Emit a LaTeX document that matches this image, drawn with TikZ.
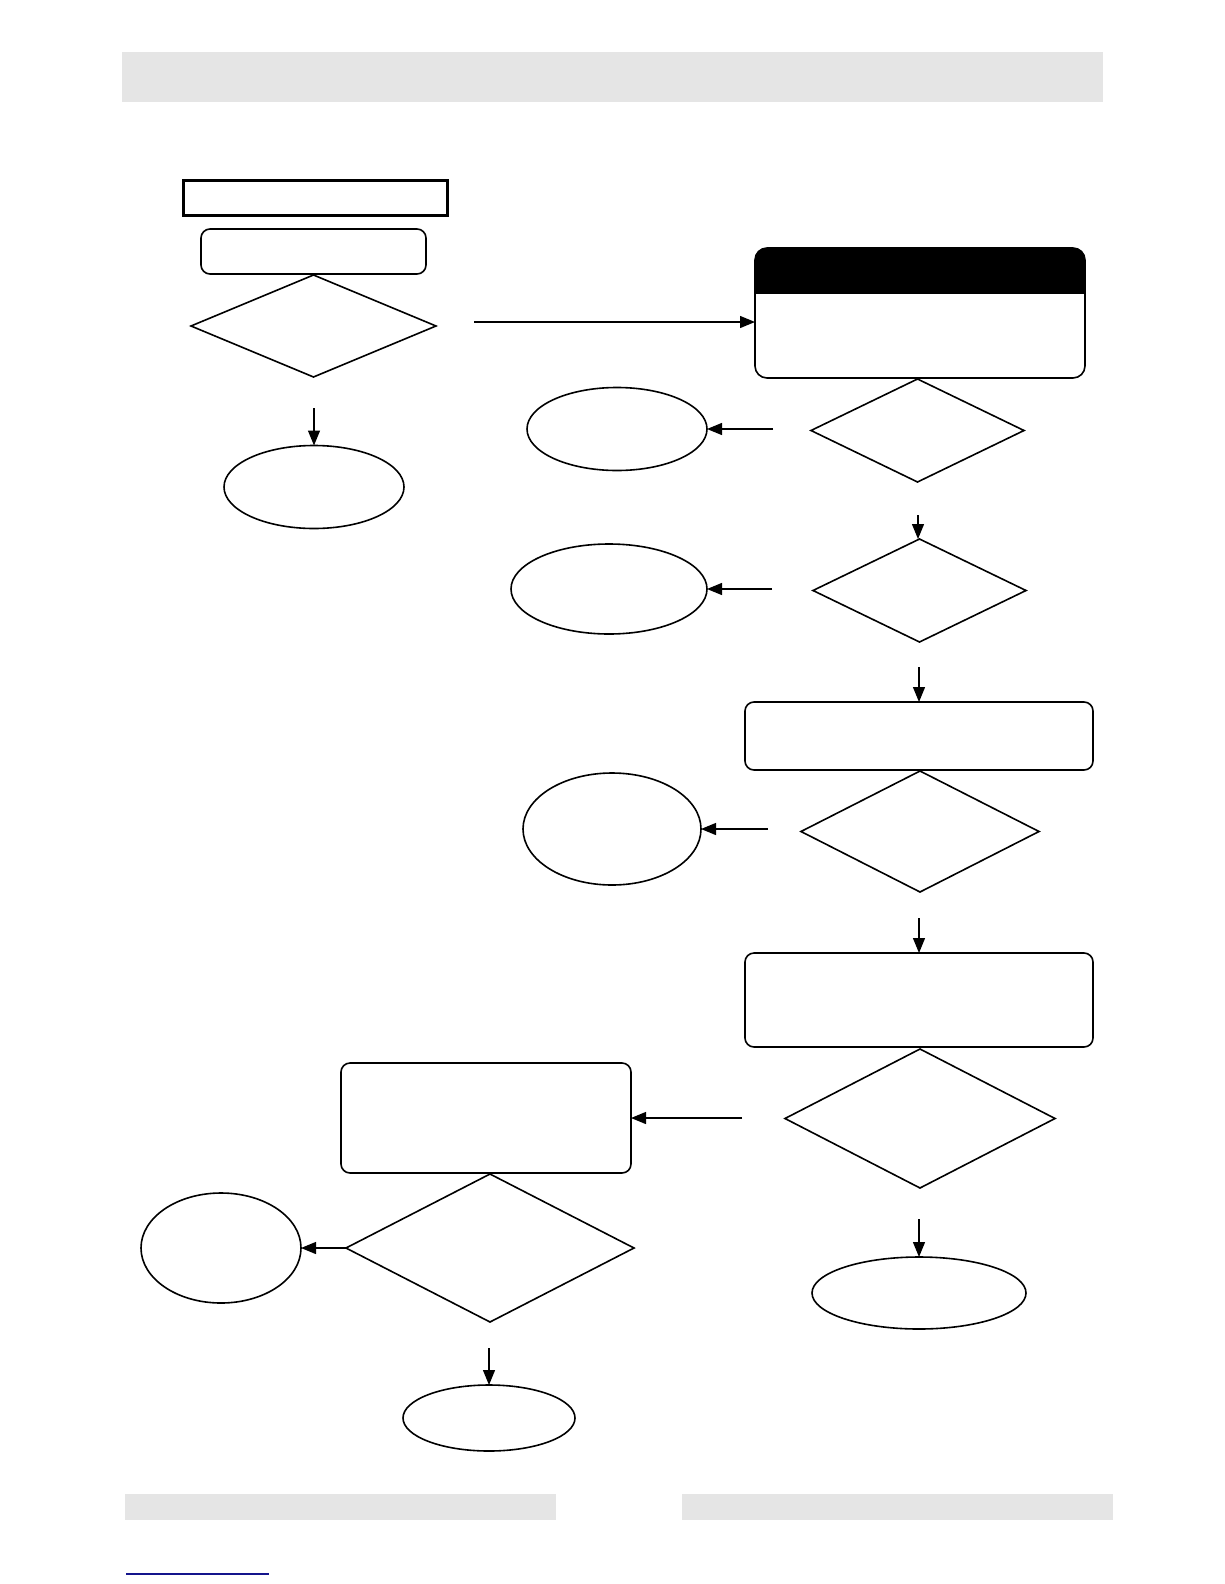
\documentclass[tikz,border=0pt]{standalone}
\usetikzlibrary{shapes.geometric,arrows.meta}
\begin{document}
\begin{tikzpicture}[x=1pt,y=-1pt,
  every node/.style={inner sep=0pt,outer sep=0pt},
  lw/.style={line width=1.6pt},
  bar/.style={fill=black!10,draw=none},
  rbox/.style={draw,lw,rectangle,rounded corners=9pt},
  dia/.style={draw,lw,diamond},
  ell/.style={draw,lw,ellipse},
  arr/.style={line width=1.3pt,-{Triangle[length=15pt,width=12pt]}}]
\useasboundingbox (0,0) rectangle (1224,1584);
\fill[white] (0,0) rectangle (1224,1584);
% bars
\node[bar,minimum width=981pt,minimum height=50pt] (topbar) at (612.5,77) {};
\node[bar,minimum width=431pt,minimum height=26pt] (botbarL) at (340.5,1507) {};
\node[bar,minimum width=431pt,minimum height=26pt] (botbarR) at (897.5,1507) {};
\draw[line width=1.5pt,color={rgb,255:red,20;green,20;blue,140}] (126,1574) coordinate (bl1) -- (269,1574) coordinate (bl2);
% left column
\node[draw,line width=3pt,minimum width=264pt,minimum height=35pt] (title) at (315,197.5) {};
\node[rbox,minimum width=225pt,minimum height=45pt] (start) at (313.5,251.5) {};
\node[dia,minimum width=245pt,minimum height=102pt] (d1) at (313.5,326) {};
\node[ell,minimum width=180pt,minimum height=83pt] (e0) at (314,487) {};
% right column
\node[rbox,rounded corners=12pt,minimum width=330pt,minimum height=130pt,
  path picture={\fill[sharp corners] (path picture bounding box.north west) rectangle ([yshift=-46pt]path picture bounding box.north east);}] (hb) at (920,313) {};
\node[dia,minimum width=213pt,minimum height=103pt] (d2) at (917.5,430.5) {};
\node[ell,minimum width=180pt,minimum height=83pt] (e1) at (617,429) {};
\node[dia,minimum width=213pt,minimum height=103pt] (d3) at (919.5,590.5) {};
\node[ell,minimum width=196pt,minimum height=90pt] (e2) at (609,589) {};
\node[rbox,minimum width=348pt,minimum height=68pt] (b2) at (919,736) {};
\node[dia,minimum width=238pt,minimum height=121pt] (d4) at (920,831.5) {};
\node[ell,minimum width=178pt,minimum height=112pt] (e3) at (612,829) {};
\node[rbox,minimum width=348pt,minimum height=94pt] (b3) at (919,1000) {};
\node[dia,minimum width=270pt,minimum height=139pt] (d5) at (920,1118.5) {};
\node[ell,minimum width=214pt,minimum height=72pt] (e6) at (919,1293) {};
\node[rbox,minimum width=290pt,minimum height=110pt] (b4) at (486,1118) {};
\node[dia,minimum width=288pt,minimum height=148pt] (d6) at (490,1248) {};
\node[ell,minimum width=160pt,minimum height=110pt] (e4) at (221,1248) {};
\node[ell,minimum width=172pt,minimum height=66pt] (e5) at (489,1418) {};
% connector start points
\coordinate (s1) at (474,322);
\coordinate (s2) at (314,408);
\coordinate (s3) at (773,429);
\coordinate (s4) at (918,515);
\coordinate (s5) at (772,589);
\coordinate (s6) at (919,667);
\coordinate (s7) at (768,829);
\coordinate (s8) at (919,918);
\coordinate (s9) at (742,1118);
\coordinate (s10) at (919,1219);
\coordinate (s11) at (489,1348);
% connectors
\draw[arr] (s1) -- (hb.west |- s1);
\draw[arr] (s2) -- (e0.north);
\draw[arr] (s3) -- (e1.east);
\draw[arr] (s4) -- (d3.north -| s4);
\draw[arr] (s5) -- (e2.east);
\draw[arr] (s6) -- (b2.north -| s6);
\draw[arr] (s7) -- (e3.east);
\draw[arr] (s8) -- (b3.north -| s8);
\draw[arr] (s9) -- (b4.east |- s9);
\draw[arr] (s10) -- (e6.north -| s10);
\draw[arr] (d6.west) -- (e4.east);
\draw[arr] (s11) -- (e5.north);
\end{tikzpicture}
\end{document}
